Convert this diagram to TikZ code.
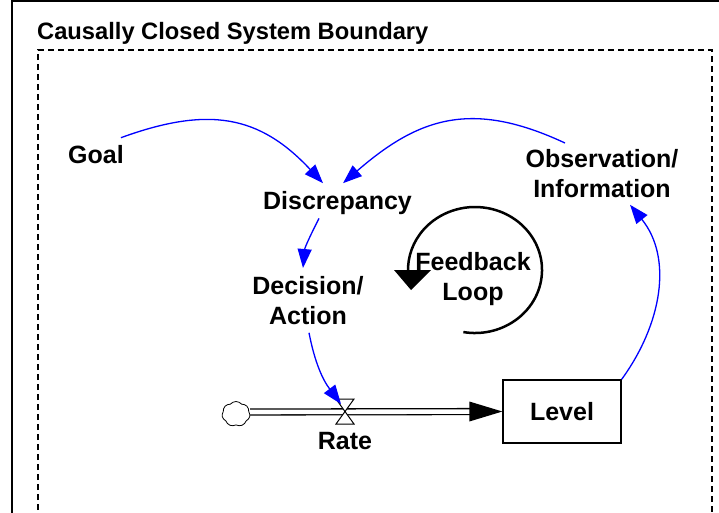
\documentclass[tikz,border=0pt]{standalone}
\usepackage{fontspec}
\setmainfont{Liberation Sans}
\usetikzlibrary{arrows.meta,shapes.symbols}
\begin{document}
\begin{tikzpicture}[x=1pt,y=1pt,
  lbl/.style={font=\fontsize{25}{30}\selectfont\bfseries, inner sep=0pt, align=center},
  link/.style={draw=blue, line width=1.3pt, -{Triangle[length=19pt,width=14pt,fill=blue]}},
  pipe/.style={double, double distance=4.6pt, line width=1.3pt}
]
\useasboundingbox (0,-512) rectangle (719,0);
% frames
\draw[line width=1.5pt] (12,-560) -- (12,-1) -- (760,-1);
\draw[line width=1.5pt, dash pattern=on 6pt off 4pt] (38,-560) -- (38,-50) -- (712,-50) -- (712,-560);
\node[anchor=base west, inner sep=0pt, font=\fontsize{23.7}{28}\selectfont\bfseries] (title) at (37,-39) {Causally Closed System Boundary};
% labels
\node[lbl, anchor=base west] (goal) at (68,-163) {Goal};
\node[lbl, anchor=base] (disc) at (337.5,-209) {Discrepancy};
\node[lbl, anchor=north] (dec) at (308,-276) {Decision/\\Action};
\node[lbl, anchor=north] (obs) at (602,-149) {Observation/\\Information};
\node[lbl, anchor=north] (fb) at (473,-252.5) {Feedback\\Loop};
\node[draw, line width=1.3pt, minimum width=118pt, minimum height=63pt, inner sep=0pt,
      font=\fontsize{25}{30}\selectfont\bfseries] (level) at (562,-411.5) {Level};
\node[lbl, anchor=base] (rate) at (345,-449) {Rate};
\node[cloud, draw, cloud puffs=7, cloud puff arc=100, minimum width=28pt, minimum height=25pt, inner sep=0pt, line width=0.8pt] (src) at (236,-414) {};
\coordinate (valve) at (345,-412);
% flow pipe
\draw[pipe, shorten >=32pt] (src.east |- valve) -- (level.west);
\fill (level.west) -- ++(-33,10) -- ++(0,-20) -- cycle;
\filldraw[fill=white, line width=1pt] (336,-399) -- (354,-399) -- (336,-424) -- (354,-424) -- cycle;
% feedback loop symbol
\draw[line width=2.5pt] (475,-270) ++(-100:67 and 63) arc[start angle=-100, end angle=182, x radius=67, y radius=63];
\fill (394,-270) -- (431,-270) -- (411,-290) -- cycle;
% causal links
\draw[link] ([shift={(-3,7)}]goal.north east) to[out=20,in=133,looseness=1.15] ([shift={(-14.5,7.5)}]disc.north);
\draw[link] ([shift={(-37,6)}]obs.north) to[out=155,in=41,looseness=1.15] ([shift={(5.5,7.5)}]disc.north);
\draw[link] ([shift={(-18.5,-4)}]disc.south) to[out=243,in=85] ([shift={(-5,8)}]dec.north);
\draw[link] ([shift={(1,-8)}]dec.south) to[out=281,in=127] ([shift={(-4,8)}]valve);
\draw[link] (level.north east) to[out=54,in=-51] ([shift={(28,-7)}]obs.south);
\end{tikzpicture}
\end{document}
